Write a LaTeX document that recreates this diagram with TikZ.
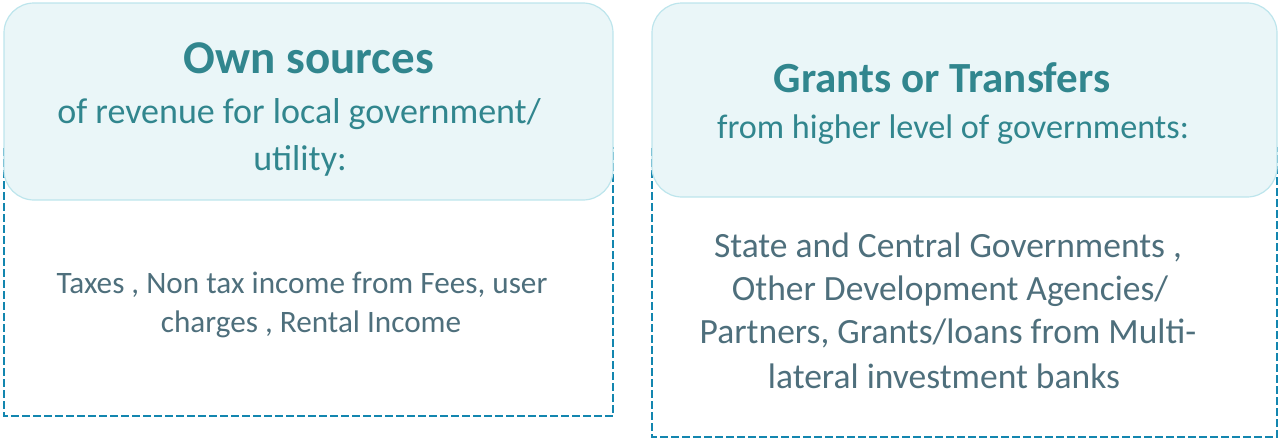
\documentclass[tikz,border=0pt]{standalone}
\usepackage{fontspec}
\setmainfont{Carlito}
\definecolor{headfill}{HTML}{EAF6F8}
\definecolor{headline}{HTML}{BDE5EC}
\definecolor{titleteal}{HTML}{31868E}
\definecolor{bodytext}{HTML}{4E6F7C}
\definecolor{dashblue}{HTML}{1386AF}
\begin{document}
\begin{tikzpicture}[x=1pt,y=-1pt,
  headbox/.style={draw=headline,line width=1.2pt,fill=headfill,rounded corners=30pt},
  listbox/.style={draw=dashblue,line width=2.5pt,dash pattern=on 8pt off 3pt},
  txt/.style={inner sep=0pt,anchor=base},
  titletxt/.style={txt,text=titleteal,font=\bfseries\fontsize{#1}{#1}\selectfont},
  subtxt/.style={txt,text=titleteal,font=\fontsize{#1}{#1}\selectfont},
  bodytxt/.style={txt,text=bodytext,font=\fontsize{#1}{#1}\selectfont}]
\useasboundingbox (0,0) rectangle (1278,439);

% dashed frames of the two columns, partly hidden by the headers
\draw[listbox] (4,148) rectangle (613,416);
\draw[listbox] (652,148) rectangle (1277,437);

% headers
\draw[headbox] (4,3) rectangle (613,200);
\draw[headbox] (652,3) rectangle (1277,197);

% left column
\node[titletxt=47] (ownT) at (309,73) {Own sources};
\node[subtxt=36] (ownS1) at (299,123) {of revenue for local government/};
\node[subtxt=36] (ownS2) at (300,170) {utility:};
\node[bodytxt=31.2] (ownB1) at (302,293) {Taxes , Non tax income from Fees, user};
\node[bodytxt=31.2] (ownB2) at (311,332) {charges , Rental Income};

% right column
\node[titletxt=43] (grT) at (942,92) {Grants or Transfers};
\node[subtxt=34.2] (grS) at (953,138) {from higher level of governments:};
\node[bodytxt=35.5] (grB1) at (948,257) {State and Central Governments ,};
\node[bodytxt=35.5] (grB2) at (950,300) {Other Development Agencies/};
\node[bodytxt=35.5] (grB3) at (948,343) {Partners, Grants/loans from Multi-};
\node[bodytxt=35.5] (grB4) at (944,388) {lateral investment banks};
\end{tikzpicture}
\end{document}
